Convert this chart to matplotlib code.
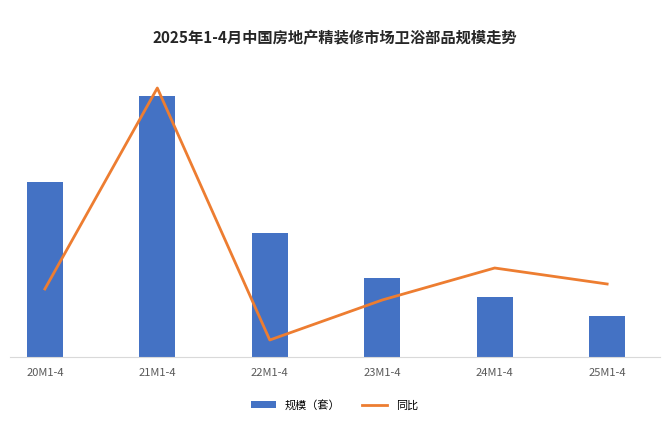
import matplotlib
matplotlib.use("Agg")
import matplotlib.pyplot as plt
import numpy as np

plt.rcParams['font.family'] = ['Noto Sans CJK SC', 'DejaVu Sans']

categories = ["20M1-4", "21M1-4", "22M1-4", "23M1-4", "24M1-4", "25M1-4"]
scale = [175, 261, 124, 79, 60, 41]
yoy = [68, 269, 17, 57, 89, 73]

fig = plt.figure(figsize=(6.69, 4.24), dpi=100)
ax = fig.add_axes([10/669, 67/424, 650/669, 287/424])
x = np.arange(len(categories))
ax.bar(x, scale, width=0.32, color="#4472C4", label="规模（套）", zorder=2)
ax.set_ylim(0, 287)
ax.set_xlim(-0.31, 5.47)
ax2 = ax.twinx()
ax2.plot(x, yoy, color="#ED7D31", lw=2, label="同比")
ax2.set_ylim(0, 287)
for a in (ax, ax2):
    a.set_yticks([])
    for s in a.spines.values():
        s.set_visible(False)
ax.spines['bottom'].set_visible(True)
ax.spines['bottom'].set_color("#d9d9d9")
ax.set_xticks(x)
ax.set_xticklabels(categories, fontsize=8, color="#595959")
ax.tick_params(axis='x', length=0, pad=8)
fig.text(0.5, 1 - 38/424, "2025年1-4月中国房地产精装修市场卫浴部品规模走势",
         ha='center', va='center', fontsize=11, fontweight='bold', color="#262626")
h1, l1 = ax.get_legend_handles_labels()
h2, l2 = ax2.get_legend_handles_labels()
fig.legend(h1 + h2, l1 + l2, loc='center', bbox_to_anchor=(0.5, 1 - 405/424),
           ncol=2, frameon=False, fontsize=8, handlelength=2.2, columnspacing=2)
fig.savefig("out.png", dpi=100)
